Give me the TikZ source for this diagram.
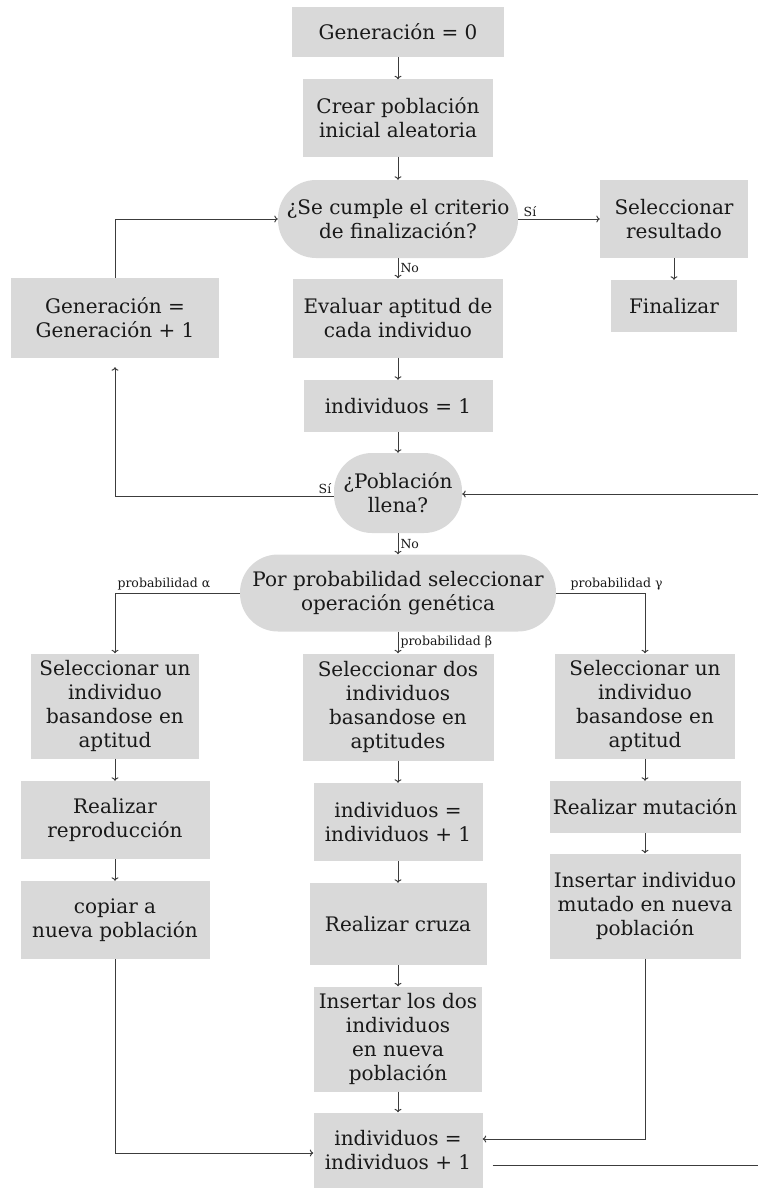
\documentclass[tikz,border=0pt]{standalone}
\usepackage{fontspec}
\setmainfont{DejaVu Serif}
\usetikzlibrary{arrows.meta}
\definecolor{boxgray}{RGB}{217,217,217}
\definecolor{linegray}{RGB}{60,60,60}
\definecolor{inkgray}{RGB}{25,25,25}

\begin{document}
\begin{tikzpicture}[x=1pt,y=-1pt,
  sz/.style 2 args={minimum width=#1pt, minimum height=#2pt},
  box/.style={fill=boxgray, align=center, inner sep=0pt, text=inkgray,
    font=\fontsize{20}{24}\selectfont},
  pill/.style={box, rounded corners=38pt},
  lab/.style={font=\fontsize{12.5}{14}\selectfont, inner sep=2pt, text=inkgray},
  link/.style={draw=linegray, line width=1pt, -{To[length=3.5pt,width=7pt]}},
  wire/.style={draw=linegray, line width=1pt}]
\useasboundingbox (0,0) rectangle (758,1188);

% main column
\node[box, sz={212}{50}] (g0) at (398,32) {Generación = 0};
\node[box, sz={190}{77}] (crear) at (398,118) {Crear población\\inicial aleatoria};
\node[pill, sz={240}{78}] (cumple) at (398,219) {¿Se cumple el criterio\\de finalización?};
\node[box, sz={148}{78}] (selres) at (674,219) {Seleccionar\\resultado};
\node[box, sz={126}{52}] (fin) at (674,306) {Finalizar};
\node[box, sz={208}{80}] (gen1) at (115,318) {Generación =\\Generación + 1};
\node[box, sz={210}{79}] (eval) at (398,318) {Evaluar aptitud de\\cada individuo};
\node[box, sz={189}{52}] (ind1) at (398,406) {individuos = 1};
\node[pill, sz={128}{80}] (llena) at (398,493) {¿Población\\llena?};
\node[pill, sz={316}{77}] (porprob) at (398,593) {Por probabilidad seleccionar\\operación genética};

% left branch: reproduction
\node[box, sz={168}{105}] (selA) at (115,706) {Seleccionar un\\individuo\\basandose en\\aptitud};
\node[box, sz={189}{78}] (reprod) at (115,820) {Realizar\\reproducción};
\node[box, sz={189}{78}] (copiar) at (115,920) {copiar a\\nueva población};

% middle branch: crossover
\node[box, sz={191}{107}] (selB) at (398,707) {Seleccionar dos\\individuos\\basandose en\\aptitudes};
\node[box, sz={169}{78}] (indB) at (398,822) {individuos =\\individuos + 1};
\node[box, sz={177}{82}] (cruza) at (398,924) {Realizar cruza};
\node[box, sz={168}{105}] (insB) at (398,1039) {Insertar los dos\\individuos\\en nueva\\población};
\node[box, sz={169}{75}] (final) at (398,1150) {individuos =\\individuos + 1};

% right branch: mutation
\node[box, sz={180}{105}] (selG) at (645,706) {Seleccionar un\\individuo\\basandose en\\aptitud};
\node[box, sz={191}{52}] (mut) at (645,807) {Realizar mutación};
\node[box, sz={191}{105}] (insG) at (645,906) {Insertar individuo\\mutado en nueva\\población};

% free ends of the loop back to the population test
\coordinate (loopOut) at (758,1165);
\coordinate (loopIn) at (758,494);

% connectors
\draw[link] (g0) -- (crear);
\draw[link] (crear) -- (cumple);
\draw[link] (cumple) -- node[lab, right, pos=0.5]{No} (eval);
\draw[link] (cumple) -- node[lab, anchor=south west, pos=0, xshift=3pt]{Sí} (selres);
\draw[link] (selres) -- (fin);
\draw[link] (gen1.north) |- (cumple.west);
\draw[link] (eval) -- (ind1);
\draw[link] (ind1) -- (llena);
\draw[link, shorten >=9pt] ([yshift=-3pt]llena.west) -| node[lab, pos=0, anchor=south east]{Sí} (gen1.south);
\draw[link] (llena) -- node[lab, right, pos=0.5]{No} (porprob);
\draw[link] (porprob.west) -| node[lab, pos=0.5, anchor=south west]{probabilidad α} (selA.north);
\draw[link] (porprob) -- node[lab, right, pos=0.5]{probabilidad β} (selB);
\draw[link] (porprob.east) -| node[lab, pos=0, anchor=south west, xshift=12pt]{probabilidad γ} (selG.north);

\draw[link] (selA) -- (reprod);
\draw[link] (reprod) -- (copiar);
\draw[link] (copiar.south) |- ([yshift=-3pt]final.west);

\draw[link] (selB) -- (indB);
\draw[link] (indB) -- (cruza);
\draw[link] (cruza) -- (insB);
\draw[link] (insB) -- (final);

\draw[link] (selG) -- (mut);
\draw[link] (mut) -- (insG);
\draw[link] (insG.south) |- ([yshift=11pt]final.east);

\draw[wire, shorten <=10pt] ([yshift=-15pt]final.east) -- (loopOut);
\draw[link] (loopIn) -- (loopIn -| llena.east);
\end{tikzpicture}
\end{document}
